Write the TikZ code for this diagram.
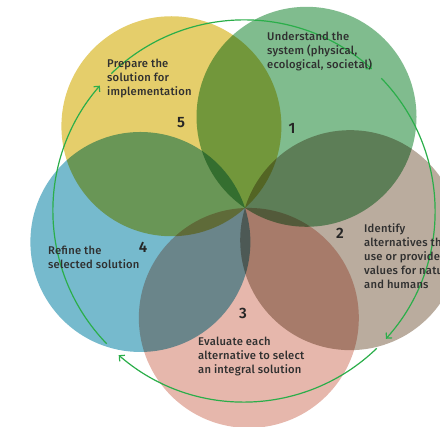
\documentclass[tikz,border=0pt]{standalone}
\usepackage{fontspec}
\setmainfont{Fira Sans}[UprightFont={* Medium}, BoldFont={* SemiBold}, LetterSpace=2]
\usepackage{tikz}
\usetikzlibrary{arrows.meta,calc}
\usepackage{xcolor}
\definecolor{cycgreen}{HTML}{80BC8E}
\definecolor{cycbrown}{HTML}{BAAC9E}
\definecolor{cycpink}{HTML}{E6B7AC}
\definecolor{cycblue}{HTML}{76BACD}
\definecolor{cycyellow}{HTML}{E5CE6B}
\definecolor{cycarrow}{HTML}{2BAE4A}
\definecolor{cyctext}{HTML}{303030}

\begin{document}
\begin{tikzpicture}[
    x=1pt, y=1pt,
    petal/.style={circle, fill=#1, minimum size=220pt, inner sep=0pt},
    phase/.style={anchor=north west, inner sep=0pt, align=left, text=cyctext,
                  font=\fontsize{11.2}{14}\selectfont},
    num/.style={text=black!85, font=\fontsize{15}{15}\selectfont\bfseries},
    cyc/.style={-{Straight Barb[length=4pt,width=8pt]}, line width=1.2pt, cycarrow}
]
\useasboundingbox (0,0) rectangle (440,427);
\coordinate (hub) at (245,219);
\coordinate (ring) at (244,216);

% five overlapping stages
\begin{scope}[blend mode=multiply]
\node[petal=cycgreen]  (understand) at ($(hub)+(56:110pt)$) {};
\node[petal=cycbrown]  (identify)   at ($(hub)+(-17:110pt)$) {};
\node[petal=cycpink]   (evaluate)   at ($(hub)+(-88:110pt)$) {};
\node[petal=cycblue]   (refine)     at ($(hub)+(-162:110pt)$) {};
\node[petal=cycyellow] (prepare)    at ($(hub)+(132:110pt)$) {};
\end{scope}

% cycle arrows
\draw[cyc] ([shift={(134:191pt)}]ring) arc[start angle=134, end angle=48, radius=191pt];
\draw[cyc] ([shift={(44:191pt)}]ring) arc[start angle=44, end angle=-42, radius=191pt];
\draw[cyc] ([shift={(-46:191pt)}]ring) arc[start angle=-46, end angle=-131, radius=191pt];
\draw[cyc] ([shift={(224:191pt)}]ring) arc[start angle=224, end angle=139, radius=191pt];

\node[num] (n1) at (292,299) {1};
\node[num] (n2) at (340,194) {2};
\node[num] (n3) at (243,114) {3};
\node[num] (n4) at (143,180) {4};
\node[num] (n5) at (181,304) {5};

\node[phase] (t1) at (267,395) {Understand the\\system (physical,\\ecological, societal)};
\node[phase] (t2) at (364,204) {Identify\\alternatives that\\use or provide\\values for nature\\and humans};
\node[phase] (t3) at (198,90) {Evaluate each\\alternative to select\\an integral solution};
\node[phase] (t4) at (48,181) {Refine the\\selected solution};
\node[phase] (t5) at (107,368) {Prepare the\\solution for\\implementation};

\end{tikzpicture}
\end{document}
